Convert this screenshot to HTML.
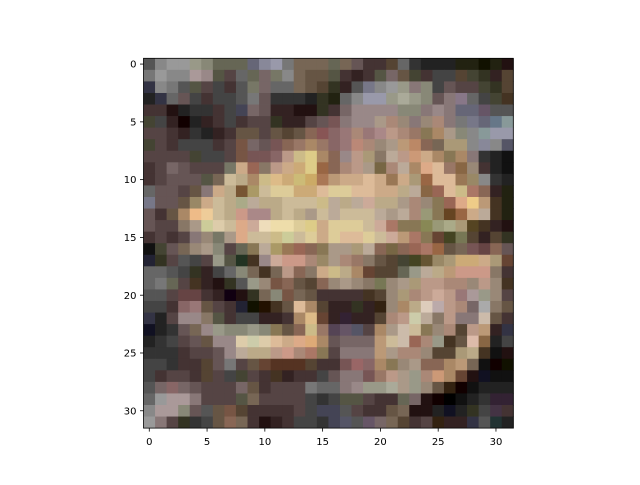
<!DOCTYPE html>
<html><head><meta charset="utf-8"><style>
html,body{margin:0;padding:0;background:#fff;}
svg text{font-family:"DejaVu Sans","Liberation Sans",sans-serif;font-size:10px;fill:#000;}
</style></head><body>
<svg id="chart" width="640" height="480" xmlns="http://www.w3.org/2000/svg">
<g id="cells"></g>
<g id="axes"></g>
</svg>
<script>
const rows = [
"555 888 999 999 998 887 665 665 665 667 889 99a 777 765 765 765 665 765 655 433 433 543 666 333 222 222 222 221 221 110 221 211",
"777 999 888 888 a99 988 554 544 666 665 766 776 888 765 654 654 554 433 322 433 554 766 654 443 433 444 444 543 443 332 322 543",
"334 888 777 555 554 544 444 433 555 776 766 666 666 765 654 543 332 322 555 778 888 999 998 877 887 444 655 544 544 443 332 543",
"222 334 666 655 444 433 444 444 555 777 655 333 333 333 222 332 221 666 888 99a 99a 998 aa9 998 887 655 877 878 666 444 443 432",
"433 433 211 222 333 333 433 444 445 766 655 322 322 211 211 332 433 766 988 988 988 988 887 887 877 988 877 667 667 656 555 555",
"443 444 322 100 222 322 433 444 433 544 544 332 322 322 544 655 755 877 988 988 a98 a87 987 877 987 a87 877 777 778 667 678 899",
"544 544 433 322 333 222 322 433 654 654 544 654 543 654 865 855 866 977 a87 977 a88 b98 a87 976 875 a86 a98 887 888 899 99a 99a",
"443 544 433 444 444 444 433 544 754 766 655 755 865 976 a86 976 866 977 b87 a87 987 a98 b97 b86 865 765 a97 a97 888 889 888 556",
"544 544 544 544 443 444 444 544 754 755 755 866 b98 cb8 dc8 a86 865 988 b98 a97 876 ba9 b98 c97 ca8 a86 875 a86 877 333 222 111",
"433 544 766 655 544 544 544 776 ca8 965 876 b98 ca8 ca7 dc8 964 865 a87 b98 a98 764 a87 ba9 a86 da8 db9 976 864 987 433 222 111",
"433 544 655 655 655 554 765 cb9 ba8 a86 cb8 db8 ca7 cb7 ca6 a75 b97 ca8 ca8 db9 ca8 975 ca8 a97 964 db9 db9 975 986 888 333 222",
"666 655 655 544 654 877 ca8 ba8 753 a96 cb9 dc9 dc9 ca7 ca7 db9 dc9 dc9 db9 db9 ca8 ca8 ba8 ba9 864 965 db9 cb8 a76 865 322 221",
"778 655 655 654 986 ca8 cb9 ba8 aa8 ba9 ba8 ba8 cb9 cb9 cb9 cb8 ba9 ba8 ba9 ca9 ba8 ba8 a98 a87 987 875 965 da8 ec8 b97 432 221",
"655 433 654 a86 eb8 ec9 cb9 ba8 c98 a88 a88 ba8 cb9 ba8 a98 cb9 ba9 cb9 cb9 cb9 ba9 a98 ba9 a87 997 875 642 964 ca8 ba9 432 221",
"655 544 544 876 a98 cc9 dca cb9 da8 ca9 edb eda eda dc9 dc8 ca8 dc9 dc9 dc9 cb9 ca9 a76 875 875 885 997 aa8 a97 542 432 322 211",
"433 544 433 544 877 987 776 a98 da8 cb9 cb9 cb8 cc9 cb9 dc9 ca8 dc9 db9 db9 dc9 cb9 ca9 b97 a76 875 643 442 775 543 322 543 332",
"111 443 655 765 987 a98 887 544 665 875 ba9 a96 975 965 865 875 a98 a98 a97 ba9 865 764 865 965 a76 964 654 765 755 644 865 655",
"223 332 544 555 444 544 998 554 232 432 988 ca9 c98 c98 a87 986 a98 a87 976 876 654 543 443 442 653 986 a97 ca7 ca7 ca8 a97 643",
"666 666 555 444 332 322 444 666 887 765 432 765 b98 865 876 ca8 cb8 ba8 a86 643 543 543 665 998 ba9 ba8 b97 c98 c98 c98 876 433",
"666 777 665 544 432 322 211 332 555 998 987 754 865 654 543 865 987 a98 987 876 775 987 a98 a97 b98 b98 a87 a87 987 b98 987 432",
"555 555 544 644 644 433 322 101 211 332 765 887 754 765 654 433 433 433 433 432 543 987 a97 a87 b98 ca9 b98 977 a99 998 987 544",
"444 444 433 866 977 654 544 433 223 110 210 432 654 db9 a86 543 322 322 332 322 321 987 a86 ba8 dcb baa b98 a87 766 aaa 876 654",
"334 222 544 988 988 876 554 433 444 444 322 322 433 a86 db8 643 322 323 322 322 543 a87 b98 cca ba9 876 b98 877 877 cba 654 433",
"112 222 333 655 765 988 998 887 887 998 887 875 654 865 cb8 976 545 656 556 544 a86 a98 cba cb9 875 987 a87 543 b98 b97 322 334",
"222 333 444 544 655 654 988 988 dca cca dca db9 ca8 da8 da7 a86 655 766 766 766 b97 cb9 cba 965 a87 998 432 654 dba 864 222 444",
"333 333 333 433 544 544 655 988 ba9 ba8 ba8 b98 c98 a87 a76 875 544 877 877 877 b97 a98 a87 a87 987 543 543 a97 ba8 432 111 211",
"444 444 333 433 433 543 655 777 544 654 643 532 532 532 543 433 433 755 966 866 a86 875 987 a98 865 865 a86 b97 765 111 100 110",
"444 433 544 544 433 543 544 444 443 544 433 432 322 433 433 444 655 877 877 755 976 b98 a98 998 a87 c97 a86 643 211 112 111 111",
"555 766 866 766 655 544 544 544 766 654 433 544 544 544 777 666 666 877 988 998 998 aa9 a98 998 987 654 321 100 111 222 222 222",
"666 999 a99 a99 877 544 544 544 554 765 544 544 544 544 444 333 444 554 554 544 433 433 665 766 211 100 000 111 222 333 323 323",
"888 a99 a99 887 655 555 654 754 543 433 433 433 433 544 444 445 445 555 544 433 433 654 765 211 211 222 112 222 332 444 434 433",
"999 877 544 332 333 444 654 865 765 433 211 322 433 444 444 333 445 556 555 656 766 765 543 433 544 321 322 322 334 555 233 222"
];
const xTicks = [0,5,10,15,20,25,30];
const yTicks = [0,5,10,15,20,25,30];
const NS="http://www.w3.org/2000/svg";
const X0=143.5, Y0=58.3, W=369.8, N=32, C=W/N;
const sx = v => X0 + (v+0.5)*C;
const sy = v => Y0 + (v+0.5)*C;
const cells=document.getElementById('cells');
rows.forEach((r,i)=>{
  r.split(' ').forEach((h,j)=>{
    const e=document.createElementNS(NS,'rect');
    e.setAttribute('x',(sx(j)-C/2).toFixed(2));
    e.setAttribute('y',(sy(i)-C/2).toFixed(2));
    e.setAttribute('width',(C+0.4).toFixed(2));
    e.setAttribute('height',(C+0.4).toFixed(2));
    e.setAttribute('fill','#'+h);
    
    
    cells.appendChild(e);
  });
});
const ax=document.getElementById('axes');
const fr=document.createElementNS(NS,'rect');
fr.setAttribute('x',X0);fr.setAttribute('y',Y0);fr.setAttribute('width',W);fr.setAttribute('height',W);
fr.setAttribute('fill','none');fr.setAttribute('stroke','#000');fr.setAttribute('stroke-width','0.8');


ax.appendChild(fr);
xTicks.forEach(t=>{
  const l=document.createElementNS(NS,'line');
  l.setAttribute('x1',sx(t));l.setAttribute('x2',sx(t));l.setAttribute('y1',Y0+W);l.setAttribute('y2',Y0+W+3.5);
  l.setAttribute('stroke','#000');l.setAttribute('stroke-width','0.8');
  
  
  ax.appendChild(l);
  const tx=document.createElementNS(NS,'text');
  tx.setAttribute('x',sx(t));tx.setAttribute('y',Y0+W+17);tx.setAttribute('text-anchor','middle');
  tx.textContent=t;
  
  
  ax.appendChild(tx);
});
yTicks.forEach(t=>{
  const l=document.createElementNS(NS,'line');
  l.setAttribute('x1',X0-3.5);l.setAttribute('x2',X0);l.setAttribute('y1',sy(t));l.setAttribute('y2',sy(t));
  l.setAttribute('stroke','#000');l.setAttribute('stroke-width','0.8');
  
  
  ax.appendChild(l);
  const tx=document.createElementNS(NS,'text');
  tx.setAttribute('x',X0-7);tx.setAttribute('y',sy(t)+3.6);tx.setAttribute('text-anchor','end');
  tx.textContent=t;
  
  
  ax.appendChild(tx);
});
</script>
</body></html>
